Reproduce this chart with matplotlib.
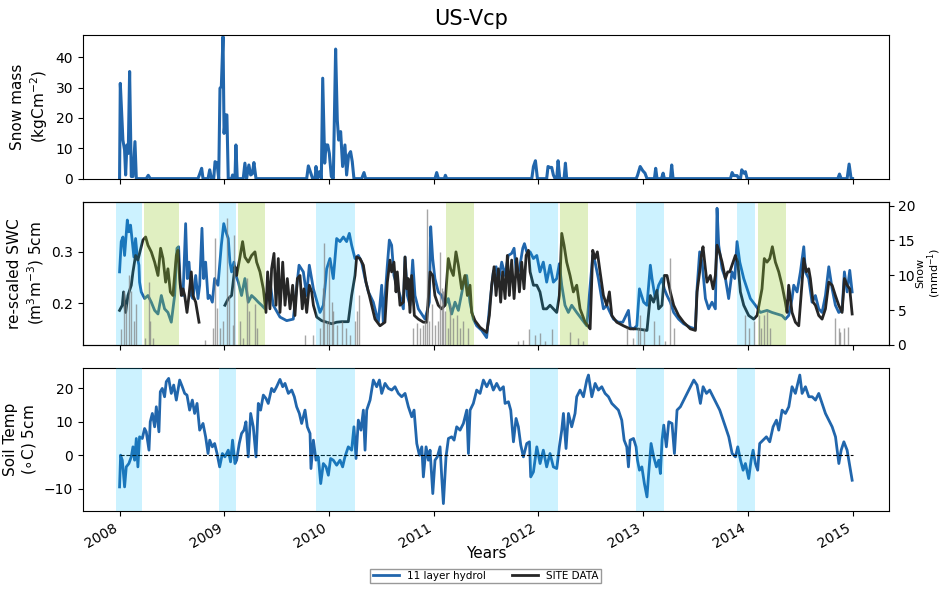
import numpy as np
import pandas as pd
import matplotlib
matplotlib.use('Agg')
import matplotlib.pyplot as plt
import matplotlib.dates as mdates

# ---- data (decimal years) ----
snow_mass_yr = [2008.000, 2008.007, 2008.032, 2008.048, 2008.058, 2008.070, 2008.083, 2008.096, 2008.112,
                2008.128, 2008.147, 2008.160, 2008.255, 2008.274, 2008.293, 2008.749, 2008.765, 2008.784,
                2008.797, 2008.845, 2008.861, 2008.877, 2008.899, 2008.912, 2008.931, 2008.947, 2008.959,
                2008.972, 2008.988, 2008.998, 2009.010, 2009.023, 2009.036, 2009.068, 2009.077, 2009.093,
                2009.100, 2009.109, 2009.122, 2009.179, 2009.195, 2009.211, 2009.233, 2009.250, 2009.266,
                2009.281, 2009.301, 2009.785, 2009.801, 2009.823, 2009.842, 2009.865, 2009.874, 2009.887,
                2009.906, 2009.925, 2009.938, 2009.957, 2009.970, 2009.986, 2010.002, 2010.021, 2010.040,
                2010.062, 2010.078, 2010.091, 2010.110, 2010.129, 2010.151, 2010.167, 2010.186, 2010.205,
                2010.221, 2010.237, 2010.311, 2010.333, 2010.349, 2011.012, 2011.028, 2011.044, 2011.101,
                2011.111, 2011.124, 2011.936, 2011.952, 2011.971, 2011.990, 2012.079, 2012.092, 2012.111,
                2012.127, 2012.143, 2012.159, 2012.175, 2012.188, 2012.204, 2012.245, 2012.258, 2012.270,
                2012.934, 2012.946, 2012.972, 2012.997, 2013.016, 2013.035, 2013.106, 2013.118, 2013.131,
                2013.173, 2013.189, 2013.201, 2013.259, 2013.271, 2013.284, 2013.832, 2013.848, 2013.864,
                2013.896, 2013.912, 2013.928, 2013.940, 2013.960, 2013.975, 2013.991, 2014.858, 2014.874,
                2014.890, 2014.947, 2014.966, 2014.985, 2015.000]
snow_mass = [0, 31.4, 12.7, 9.4, 1.2, 11.1, 8.3, 35.3, 0.7,
             0.7, 12.2, 0, 0, 1.1, 0, 0, 1.5, 3.4,
             0, 0, 2.9, 0, 0, 5.6, 5.1, 0, 29.8,
             30.3, 46.8, 14.9, 21.0, 21.0, 0, 0, 1.2, 0,
             0, 11.1, 0, 0, 5.1, 0, 4.5, 1.2, 1.6,
             5.3, 0, 0, 4.2, 2.0, 0, 0, 4.0, 0,
             2.3, 0, 33.1, 5.1, 11.1, 11.1, 8.3, 0.7, 0,
             42.7, 19.3, 12.7, 15.5, 4.0, 11.1, 1.2, 7.8, 8.9,
             5.6, 0, 0, 2.0, 0, 0, 2.0, 0, 0,
             1.1, 0, 0, 4.0, 5.9, 0, 0, 4.0, 3.7,
             3.7, 1.2, 0, 0, 5.9, 0, 0, 5.1, 0,
             0, 1.0, 4.0, 2.6, 1.8, 0, 0, 3.4, 0,
             0, 1.8, 0, 0, 4.5, 0, 0, 2.0, 1.0,
             1.0, 0, 0, 2.9, 1.8, 2.3, 0, 0, 1.5,
             0, 0, 4.8, 0, 0]

swc_model_yr = [2008.000, 2008.016, 2008.032, 2008.048, 2008.074, 2008.089, 2008.105, 2008.121, 2008.137,
                2008.153, 2008.169, 2008.185, 2008.191, 2008.207, 2008.239, 2008.271, 2008.303, 2008.335,
                2008.367, 2008.399, 2008.430, 2008.462, 2008.494, 2008.526, 2008.548, 2008.564, 2008.580,
                2008.606, 2008.631, 2008.647, 2008.663, 2008.685, 2008.701, 2008.727, 2008.749, 2008.765,
                2008.787, 2008.803, 2008.822, 2008.845, 2008.861, 2008.886, 2008.908, 2008.940, 2008.972,
                2008.995, 2009.014, 2009.036, 2009.052, 2009.068, 2009.090, 2009.109, 2009.132, 2009.163,
                2009.195, 2009.227, 2009.259, 2009.291, 2009.323, 2009.355, 2009.387, 2009.434, 2009.466,
                2009.530, 2009.594, 2009.657, 2009.712, 2009.753, 2009.785, 2009.810, 2009.849, 2009.912,
                2009.944, 2009.976, 2010.008, 2010.040, 2010.072, 2010.104, 2010.136, 2010.167, 2010.193,
                2010.215, 2010.247, 2010.279, 2010.311, 2010.343, 2010.375, 2010.422, 2010.470, 2010.502,
                2010.517, 2010.556, 2010.575, 2010.597, 2010.619, 2010.645, 2010.677, 2010.709, 2010.725,
                2010.747, 2010.772, 2010.798, 2010.820, 2010.852, 2010.884, 2010.916, 2010.957, 2010.970,
                2010.989, 2011.011, 2011.043, 2011.075, 2011.107, 2011.139, 2011.171, 2011.203, 2011.235,
                2011.282, 2011.314, 2011.346, 2011.378, 2011.410, 2011.458, 2011.505, 2011.537, 2011.569,
                2011.595, 2011.617, 2011.649, 2011.681, 2011.712, 2011.744, 2011.767, 2011.792, 2011.818,
                2011.850, 2011.866, 2011.888, 2011.920, 2011.952, 2011.984, 2012.015, 2012.047, 2012.079,
                2012.111, 2012.143, 2012.175, 2012.200, 2012.223, 2012.254, 2012.286, 2012.318, 2012.366,
                2012.414, 2012.462, 2012.519, 2012.541, 2012.573, 2012.589, 2012.621, 2012.653, 2012.685,
                2012.717, 2012.764, 2012.806, 2012.860, 2012.876, 2012.908, 2012.940, 2012.965, 2013.003,
                2013.035, 2013.067, 2013.083, 2013.114, 2013.146, 2013.178, 2013.200, 2013.226, 2013.258,
                2013.290, 2013.337, 2013.385, 2013.449, 2013.497, 2013.513, 2013.538, 2013.561, 2013.593,
                2013.624, 2013.656, 2013.688, 2013.704, 2013.720, 2013.752, 2013.784, 2013.815, 2013.847,
                2013.873, 2013.895, 2013.921, 2013.959, 2013.991, 2014.023, 2014.071, 2014.118, 2014.182,
                2014.230, 2014.278, 2014.325, 2014.357, 2014.389, 2014.421, 2014.437, 2014.469, 2014.501,
                2014.533, 2014.549, 2014.580, 2014.612, 2014.644, 2014.676, 2014.708, 2014.740, 2014.772,
                2014.804, 2014.835, 2014.867, 2014.899, 2014.921, 2014.947, 2014.972, 2014.995]
swc_model = [0.261, 0.320, 0.329, 0.293, 0.362, 0.339, 0.352, 0.320, 0.290,
             0.326, 0.290, 0.274, 0.241, 0.222, 0.209, 0.215, 0.202, 0.186,
             0.179, 0.215, 0.189, 0.182, 0.163, 0.215, 0.307, 0.310, 0.235,
             0.215, 0.355, 0.248, 0.280, 0.215, 0.209, 0.254, 0.209, 0.235,
             0.346, 0.248, 0.280, 0.209, 0.215, 0.202, 0.248, 0.235, 0.313,
             0.355, 0.339, 0.326, 0.280, 0.261, 0.280, 0.254, 0.241, 0.215,
             0.248, 0.202, 0.215, 0.209, 0.202, 0.196, 0.189, 0.241, 0.196,
             0.173, 0.166, 0.169, 0.274, 0.261, 0.215, 0.274, 0.228, 0.182,
             0.196, 0.267, 0.287, 0.248, 0.326, 0.320, 0.329, 0.320, 0.336,
             0.313, 0.287, 0.293, 0.280, 0.248, 0.222, 0.202, 0.163, 0.235,
             0.163, 0.274, 0.323, 0.313, 0.254, 0.235, 0.215, 0.189, 0.290,
             0.215, 0.196, 0.284, 0.215, 0.189, 0.179, 0.169, 0.202, 0.349,
             0.287, 0.248, 0.222, 0.215, 0.196, 0.209, 0.179, 0.202, 0.186,
             0.235, 0.254, 0.202, 0.169, 0.156, 0.147, 0.133, 0.202, 0.261,
             0.271, 0.241, 0.280, 0.254, 0.293, 0.297, 0.307, 0.254, 0.267,
             0.307, 0.316, 0.300, 0.300, 0.287, 0.293, 0.261, 0.280, 0.241,
             0.274, 0.241, 0.248, 0.277, 0.235, 0.196, 0.182, 0.196, 0.182,
             0.169, 0.156, 0.293, 0.280, 0.248, 0.228, 0.189, 0.196, 0.182,
             0.169, 0.163, 0.163, 0.186, 0.153, 0.150, 0.156, 0.228, 0.202,
             0.196, 0.274, 0.248, 0.209, 0.235, 0.248, 0.228, 0.215, 0.202,
             0.182, 0.169, 0.160, 0.153, 0.150, 0.228, 0.300, 0.280, 0.209,
             0.189, 0.202, 0.189, 0.385, 0.313, 0.267, 0.248, 0.209, 0.261,
             0.248, 0.320, 0.280, 0.248, 0.228, 0.209, 0.196, 0.182, 0.186,
             0.182, 0.179, 0.176, 0.169, 0.176, 0.209, 0.235, 0.222, 0.261,
             0.310, 0.261, 0.248, 0.202, 0.215, 0.189, 0.182, 0.215, 0.271,
             0.228, 0.196, 0.182, 0.186, 0.261, 0.222, 0.264, 0.222]

# site soil moisture, NaN where the record has a gap
swc_site_yr = [2008.000, 2008.026, 2008.038, 2008.058, 2008.080, 2008.112, 2008.128, 2008.153, 2008.175,
               2008.191, 2008.223, 2008.249, 2008.271, 2008.303, 2008.335, 2008.367, 2008.392, 2008.415,
               2008.440, 2008.462, 2008.485, 2008.510, 2008.542, 2008.558, 2008.574, 2008.590, 2008.606,
               2008.622, 2008.644, 2008.663, 2008.685, 2008.701, 2008.727, 2008.759, 2008.880, 2009.004,
               2009.036, 2009.068, 2009.100, 2009.116, 2009.148, 2009.173, 2009.195, 2009.227, 2009.259,
               2009.291, 2009.307, 2009.339, 2009.371, 2009.396, 2009.412, 2009.434, 2009.450, 2009.473,
               2009.492, 2009.514, 2009.530, 2009.556, 2009.578, 2009.600, 2009.626, 2009.651, 2009.673,
               2009.696, 2009.721, 2009.743, 2009.759, 2009.785, 2009.810, 2009.833, 2009.849, 2009.881,
               2009.928, 2009.976, 2010.024, 2010.072, 2010.120, 2010.183, 2010.215, 2010.247, 2010.263,
               2010.295, 2010.327, 2010.352, 2010.384, 2010.438, 2010.486, 2010.533, 2010.556, 2010.581,
               2010.597, 2010.619, 2010.639, 2010.651, 2010.677, 2010.709, 2010.725, 2010.741, 2010.756,
               2010.772, 2010.788, 2010.814, 2010.852, 2010.900, 2010.932, 2010.964, 2010.989, 2011.011,
               2011.043, 2011.075, 2011.107, 2011.139, 2011.161, 2011.187, 2011.212, 2011.235, 2011.266,
               2011.298, 2011.321, 2011.346, 2011.362, 2011.394, 2011.442, 2011.505, 2011.531, 2011.553,
               2011.576, 2011.595, 2011.617, 2011.639, 2011.658, 2011.681, 2011.703, 2011.722, 2011.744,
               2011.767, 2011.792, 2011.818, 2011.840, 2011.862, 2011.882, 2011.904, 2011.920, 2011.952,
               2011.984, 2012.015, 2012.047, 2012.079, 2012.111, 2012.143, 2012.175, 2012.200, 2012.223,
               2012.245, 2012.270, 2012.302, 2012.334, 2012.366, 2012.398, 2012.446, 2012.494, 2012.519,
               2012.541, 2012.563, 2012.589, 2012.621, 2012.653, 2012.678, 2012.701, 2012.748, 2012.812,
               2012.876, 2012.940, 2013.035, 2013.067, 2013.098, 2013.130, 2013.146, 2013.178, 2013.200,
               2013.226, 2013.258, 2013.290, 2013.337, 2013.385, 2013.449, 2013.497, 2013.513, 2013.538,
               2013.554, 2013.570, 2013.593, 2013.608, 2013.640, 2013.666, 2013.688, 2013.704, 2013.730,
               2013.752, 2013.784, 2013.806, 2013.825, 2013.847, 2013.879, 2013.902, 2013.927, 2013.959,
               2014.007, 2014.055, 2014.087, 2014.134, 2014.156, 2014.182, 2014.208, 2014.233, 2014.262,
               2014.294, 2014.325, 2014.357, 2014.373, 2014.389, 2014.421, 2014.453, 2014.485, 2014.517,
               2014.533, 2014.558, 2014.580, 2014.596, 2014.622, 2014.644, 2014.676, 2014.708, 2014.740,
               2014.772, 2014.804, 2014.835, 2014.867, 2014.899, 2014.921, 2014.947, 2014.972, 2014.995]
swc_site = [0.186, 0.196, 0.222, 0.182, 0.215, 0.235, 0.261, 0.293, 0.284,
            0.297, 0.323, 0.329, 0.313, 0.300, 0.280, 0.254, 0.307, 0.287,
            0.241, 0.267, 0.222, 0.215, 0.293, 0.303, 0.248, 0.215, 0.228,
            0.215, 0.182, 0.215, 0.261, 0.215, 0.202, 0.163, np.nan, 0.196,
            0.209, 0.215, 0.271, 0.254, 0.290, 0.320, 0.290, 0.280, 0.293,
            0.300, 0.280, 0.261, 0.228, 0.182, 0.261, 0.189, 0.267, 0.297,
            0.196, 0.287, 0.182, 0.280, 0.196, 0.248, 0.189, 0.235, 0.176,
            0.248, 0.254, 0.189, 0.228, 0.182, 0.235, 0.222, 0.196, 0.173,
            0.166, 0.163, 0.160, 0.163, 0.164, 0.164, 0.215, 0.254, 0.290,
            0.287, 0.274, 0.241, 0.215, 0.169, 0.156, 0.163, 0.241, 0.284,
            0.261, 0.280, 0.222, 0.261, 0.196, 0.202, 0.290, 0.228, 0.248,
            0.182, 0.254, 0.176, 0.169, 0.163, 0.163, 0.261, 0.254, 0.215,
            0.196, 0.189, 0.196, 0.287, 0.267, 0.254, 0.300, 0.274, 0.228,
            0.254, 0.215, 0.235, 0.182, 0.166, 0.153, 0.143, 0.176, 0.235,
            0.271, 0.215, 0.267, 0.202, 0.261, 0.209, 0.293, 0.215, 0.284,
            0.209, 0.287, 0.222, 0.280, 0.228, 0.293, 0.303, 0.261, 0.235,
            0.235, 0.222, 0.189, 0.189, 0.196, 0.189, 0.182, 0.215, 0.336,
            0.313, 0.280, 0.254, 0.222, 0.235, 0.189, 0.163, 0.150, 0.303,
            0.287, 0.300, 0.261, 0.215, 0.196, 0.222, 0.176, 0.163, 0.156,
            0.150, 0.150, 0.147, 0.215, 0.202, 0.225, 0.189, 0.196, 0.254,
            0.254, 0.222, 0.196, 0.176, 0.163, 0.150, 0.147, 0.222, 0.261,
            0.293, 0.310, 0.267, 0.241, 0.254, 0.228, 0.254, 0.313, 0.297,
            0.280, 0.248, 0.261, 0.261, 0.274, 0.293, 0.280, 0.222, 0.196,
            0.176, 0.169, 0.176, 0.228, 0.287, 0.280, 0.287, 0.310, 0.280,
            0.261, 0.235, 0.202, 0.182, 0.235, 0.182, 0.163, 0.156, 0.241,
            0.287, 0.261, 0.267, 0.248, 0.202, 0.196, 0.176, 0.169, 0.189,
            0.241, 0.235, 0.215, 0.196, 0.182, 0.248, 0.235, 0.228, 0.179]

snow_site_yr = [2008.016, 2008.038, 2008.064, 2008.089, 2008.112, 2008.137, 2008.160, 2008.239, 2008.281,
                2008.293, 2008.319, 2008.813, 2008.893, 2008.912, 2008.931, 2008.956, 2008.988, 2009.020,
                2009.046, 2009.077, 2009.093, 2009.147, 2009.173, 2009.211, 2009.237, 2009.291, 2009.307,
                2009.769, 2009.849, 2009.912, 2009.938, 2009.954, 2009.976, 2010.002, 2010.024, 2010.040,
                2010.078, 2010.120, 2010.161, 2010.199, 2010.247, 2010.269, 2010.289, 2010.804, 2010.836,
                2010.868, 2010.893, 2010.916, 2010.932, 2010.957, 2010.980, 2011.011, 2011.037, 2011.059,
                2011.075, 2011.091, 2011.107, 2011.139, 2011.155, 2011.187, 2011.219, 2011.250, 2011.282,
                2011.330, 2011.808, 2011.856, 2011.913, 2011.968, 2012.015, 2012.063, 2012.127, 2012.302,
                2012.382, 2012.430, 2012.844, 2012.908, 2012.955, 2012.971, 2013.003, 2013.098, 2013.146,
                2013.210, 2013.251, 2013.290, 2013.975, 2014.007, 2014.055, 2014.104, 2014.126, 2014.150,
                2014.182, 2014.214, 2014.835, 2014.867, 2014.883, 2014.915, 2014.953]
snow_site = [2.2, 7.7, 5.8, 10.1, 7.7, 3.4, 5.8, 1.0, 9.1,
             3.4, 1.0, 0.7, 2.4, 15.3, 5.3, 2.4, 3.4, 18.2,
             7.2, 2.9, 15.8, 3.4, 1.0, 9.6, 4.8, 5.8, 2.4,
             1.4, 1.4, 2.4, 8.2, 14.6, 3.4, 12.0, 6.2, 4.8,
             2.9, 3.4, 2.4, 1.4, 3.4, 4.8, 7.2, 2.4, 3.1,
             2.4, 2.9, 3.4, 19.6, 3.4, 5.8, 2.9, 3.4, 13.4,
             8.2, 7.7, 4.8, 2.4, 5.8, 3.8, 4.3, 2.4, 3.4,
             2.4, 0.5, 0.7, 2.2, 1.4, 1.7, 0.5, 2.2, 1.9,
             1.0, 0.5, 2.4, 1.0, 2.4, 4.3, 2.4, 3.4, 1.4,
             0.5, 12.5, 2.4, 4.3, 2.4, 3.4, 4.3, 2.4, 4.3,
             4.8, 2.4, 3.8, 2.4, 1.9, 2.4, 2.6]

soil_temp_yr = [2008.000, 2008.010, 2008.026, 2008.048, 2008.064, 2008.089, 2008.112, 2008.128, 2008.144,
                2008.160, 2008.175, 2008.191, 2008.217, 2008.239, 2008.255, 2008.281, 2008.293, 2008.313,
                2008.335, 2008.351, 2008.376, 2008.389, 2008.408, 2008.430, 2008.446, 2008.469, 2008.494,
                2008.517, 2008.542, 2008.574, 2008.599, 2008.622, 2008.644, 2008.669, 2008.695, 2008.717,
                2008.740, 2008.765, 2008.797, 2008.822, 2008.845, 2008.861, 2008.886, 2008.908, 2008.931,
                2008.956, 2008.982, 2009.004, 2009.036, 2009.058, 2009.077, 2009.100, 2009.116, 2009.141,
                2009.163, 2009.186, 2009.205, 2009.227, 2009.250, 2009.275, 2009.301, 2009.323, 2009.345,
                2009.371, 2009.396, 2009.418, 2009.450, 2009.473, 2009.498, 2009.530, 2009.556, 2009.578,
                2009.610, 2009.642, 2009.667, 2009.689, 2009.715, 2009.737, 2009.769, 2009.791, 2009.817,
                2009.826, 2009.849, 2009.874, 2009.896, 2009.919, 2009.944, 2009.970, 2009.992, 2010.014,
                2010.040, 2010.072, 2010.104, 2010.129, 2010.151, 2010.183, 2010.215, 2010.237, 2010.257,
                2010.279, 2010.304, 2010.327, 2010.343, 2010.359, 2010.391, 2010.422, 2010.454, 2010.480,
                2010.502, 2010.534, 2010.566, 2010.598, 2010.629, 2010.661, 2010.693, 2010.725, 2010.757,
                2010.789, 2010.811, 2010.837, 2010.862, 2010.885, 2010.900, 2010.926, 2010.948, 2010.964,
                2010.990, 2011.012, 2011.034, 2011.060, 2011.076, 2011.092, 2011.117, 2011.140, 2011.171,
                2011.194, 2011.219, 2011.251, 2011.283, 2011.315, 2011.331, 2011.347, 2011.378, 2011.410,
                2011.442, 2011.474, 2011.506, 2011.538, 2011.569, 2011.601, 2011.633, 2011.665, 2011.681,
                2011.713, 2011.735, 2011.761, 2011.786, 2011.808, 2011.831, 2011.856, 2011.888, 2011.914,
                2011.926, 2011.952, 2011.984, 2012.016, 2012.047, 2012.079, 2012.111, 2012.143, 2012.175,
                2012.200, 2012.223, 2012.239, 2012.264, 2012.287, 2012.318, 2012.350, 2012.366, 2012.398,
                2012.430, 2012.462, 2012.478, 2012.510, 2012.542, 2012.573, 2012.605, 2012.637, 2012.669,
                2012.701, 2012.733, 2012.764, 2012.796, 2012.819, 2012.844, 2012.860, 2012.876, 2012.908,
                2012.933, 2012.946, 2012.965, 2012.988, 2013.010, 2013.035, 2013.051, 2013.074, 2013.099,
                2013.125, 2013.147, 2013.163, 2013.179, 2013.195, 2013.220, 2013.243, 2013.274, 2013.297,
                2013.322, 2013.354, 2013.386, 2013.418, 2013.450, 2013.482, 2013.513, 2013.545, 2013.571,
                2013.603, 2013.634, 2013.666, 2013.698, 2013.730, 2013.752, 2013.784, 2013.816, 2013.848,
                2013.880, 2013.902, 2013.928, 2013.953, 2013.975, 2014.007, 2014.030, 2014.049, 2014.071,
                2014.093, 2014.112, 2014.144, 2014.176, 2014.208, 2014.240, 2014.272, 2014.294, 2014.326,
                2014.358, 2014.390, 2014.421, 2014.453, 2014.495, 2014.517, 2014.549, 2014.581, 2014.613,
                2014.645, 2014.676, 2014.708, 2014.740, 2014.772, 2014.804, 2014.836, 2014.868, 2014.890,
                2014.916, 2014.947, 2014.963, 2014.979, 2014.995]
soil_temp = [-9.5, 0.0, -1.5, -9.5, -3.5, -2.5, -0.5, 2.5, -1.5,
             5.0, -3.5, 5.5, 5.0, 8.0, 7.0, 1.5, 10.0, 12.5,
             8.5, 14.5, 7.0, 19.0, 20.0, 17.5, 22.0, 23.0, 18.5,
             21.0, 16.5, 22.5, 20.5, 18.5, 18.0, 13.5, 16.5, 12.5,
             15.5, 7.5, 9.5, 5.5, 0.5, 4.5, 2.5, 3.5, 0.5,
             -3.5, 0.5, -0.5, 1.5, -2.0, 4.5, -2.5, -1.5, 3.5,
             6.5, 7.5, 10.0, -0.5, 12.5, 8.5, -0.5, 15.5, 13.5,
             18.0, 17.0, 15.5, 20.0, 19.0, 20.5, 22.7, 20.5, 21.5,
             18.5, 19.5, 17.5, 14.5, 12.5, 9.5, 13.5, 8.5, 6.5,
             -4.0, 4.5, -1.5, -0.5, -8.5, -2.5, -3.5, -6.0, -1.0,
             -1.5, -3.0, -1.5, -3.5, -0.5, 2.5, 1.5, 8.5, -1.0,
             10.5, 7.5, 13.5, 1.5, 13.5, 16.5, 22.5, 20.5, 22.5,
             18.5, 21.5, 20.0, 19.5, 20.5, 18.5, 17.5, 18.5, 14.5,
             11.5, 13.5, 3.5, 0.0, 2.5, -6.5, 2.5, -1.5, 1.5,
             -11.5, -1.5, -0.5, 2.5, -6.5, -14.5, -0.5, 5.0, 5.5,
             4.5, 8.5, 7.5, 9.5, 13.5, 0.5, 13.5, 15.5, 19.5,
             18.5, 22.5, 20.5, 22.5, 19.5, 21.5, 19.5, 20.5, 15.5,
             16.0, 13.5, 4.0, 11.0, 8.5, 3.0, -0.5, 3.5, 4.0,
             -6.5, -5.0, 2.5, -2.5, 1.5, -3.5, 0.5, -3.5, -4.0,
             2.5, 7.5, 12.5, 2.0, 12.5, 8.5, 12.5, 17.5, 19.5,
             17.5, 22.5, 24.0, 17.5, 21.5, 19.5, 20.5, 18.5, 17.5,
             15.5, 14.5, 13.5, 10.5, 4.5, 2.5, -3.5, 4.5, 5.0,
             2.5, -1.5, -4.5, -3.5, -8.5, -12.5, -5.5, 3.5, -0.5,
             -3.5, -1.5, -5.5, 4.5, 9.0, 2.5, 10.0, 9.5, 0.5,
             13.5, 14.5, 16.5, 18.5, 20.5, 22.5, 21.0, 15.5, 20.5,
             18.5, 19.5, 17.5, 15.5, 13.5, 11.5, 8.5, 5.5, 0.5,
             -0.5, 2.5, -1.5, -4.5, -2.5, -7.0, -1.5, 1.5, -2.5,
             -4.5, 3.5, 4.5, 5.5, 4.0, 8.5, 10.5, 7.5, 13.5,
             12.5, 14.5, 20.5, 18.5, 24.0, 18.5, 20.5, 17.5, 17.5,
             16.5, 18.5, 15.5, 12.5, 10.5, 8.5, 5.5, -2.5, 1.5,
             4.0, 1.5, -1.5, -4.5, -7.5]

winter_spans = [(2007.97, 2008.21), (2008.95, 2009.11), (2009.87, 2010.25),
                (2011.92, 2012.19), (2012.93, 2013.20), (2013.89, 2014.07)]
spring_spans = [(2008.23, 2008.57), (2009.13, 2009.39), (2011.12, 2011.38),
                (2012.21, 2012.47), (2014.10, 2014.36)]
record = (2008.0, 2015.0)


def to_dates(years):
    y = np.asarray(years, dtype=float)
    whole = np.floor(y).astype(int)
    base = pd.to_datetime([f'{v}-01-01' for v in whole])
    return base + pd.to_timedelta((y - whole) * 365.25, unit='D')


blue = '#2166ac'
site = '#262626'

fig, axes = plt.subplots(3, 1, sharex=True, figsize=(9.43, 5.9), dpi=100)
ax1, ax2, ax3 = axes

# top: modelled snow mass
ax1.plot(to_dates(snow_mass_yr), snow_mass, color=blue, lw=2.2)
ax1.set_ylim(0, 47.2)
ax1.set_yticks([0, 10, 20, 30, 40])
ax1.set_ylabel('Snow mass\n(kgCm$^{-2}$)', fontsize=11)

# middle: soil moisture + site snow on twin axis
l_model, = ax2.plot(to_dates(swc_model_yr), swc_model, color=blue, lw=2)
l_site, = ax2.plot(to_dates(swc_site_yr), swc_site, color=site, lw=2)
ax2.set_ylim(0.119, 0.398)
ax2.set_yticks([0.2, 0.3])
ax2.set_ylabel('re-scaled SWC\n(m$^3$m$^{-3}$) 5cm', fontsize=11)

ax2b = ax2.twinx()
ax2b.vlines(to_dates(snow_site_yr), 0, snow_site, color='grey', lw=1, alpha=0.7)
ax2b.set_ylim(0, 20.6)
ax2b.set_yticks([0, 5, 10, 15, 20])
ax2b.tick_params(axis='y', pad=2.5)
ax2b.set_ylabel('Snow\n(mmd$^{-1}$)', fontsize=8, labelpad=0, linespacing=1.0)
for s, e in winter_spans:
    ax2b.axvspan(to_dates([s])[0], to_dates([e])[0], color='deepskyblue', alpha=0.2, lw=0)
for s, e in spring_spans:
    ax2b.axvspan(to_dates([s])[0], to_dates([e])[0], color='yellowgreen', alpha=0.3, lw=0)

# bottom: soil temperature
ax3.plot(to_dates(soil_temp_yr), soil_temp, color=blue, lw=2)
ax3.plot(to_dates(list(record)), [0, 0], 'k--', lw=0.8)
for s, e in winter_spans:
    ax3.axvspan(to_dates([s])[0], to_dates([e])[0], color='deepskyblue', alpha=0.2, lw=0, zorder=3)
ax3.set_ylim(-16.7, 26.2)
ax3.set_yticks([-10, 0, 10, 20])
ax3.set_ylabel('Soil Temp\n($\\circ$C) 5cm', fontsize=11)
ax3.set_xlabel('Years', fontsize=11, labelpad=-3)

ax3.set_xlim(to_dates([2007.65])[0], to_dates([2015.35])[0])
ax3.xaxis.set_major_locator(mdates.YearLocator())
ax3.xaxis.set_major_formatter(mdates.DateFormatter('%Y'))
fig.autofmt_xdate()
# autofmt_xdate moves the bottom edge, so set the layout afterwards
fig.subplots_adjust(left=0.088, right=0.943, top=0.940, bottom=0.134, hspace=0.16)

fig.suptitle('US-Vcp', fontsize=15, y=0.985)
fig.legend([l_model, l_site], ['11 layer hydrol', 'SITE DATA'], loc='upper center',
           bbox_to_anchor=(0.515, 0.045), ncol=2, fontsize=7.5, fancybox=False,
           edgecolor='grey', borderpad=0.2, handlelength=2.5, columnspacing=2.5)

plt.savefig('out.png', dpi=100)
